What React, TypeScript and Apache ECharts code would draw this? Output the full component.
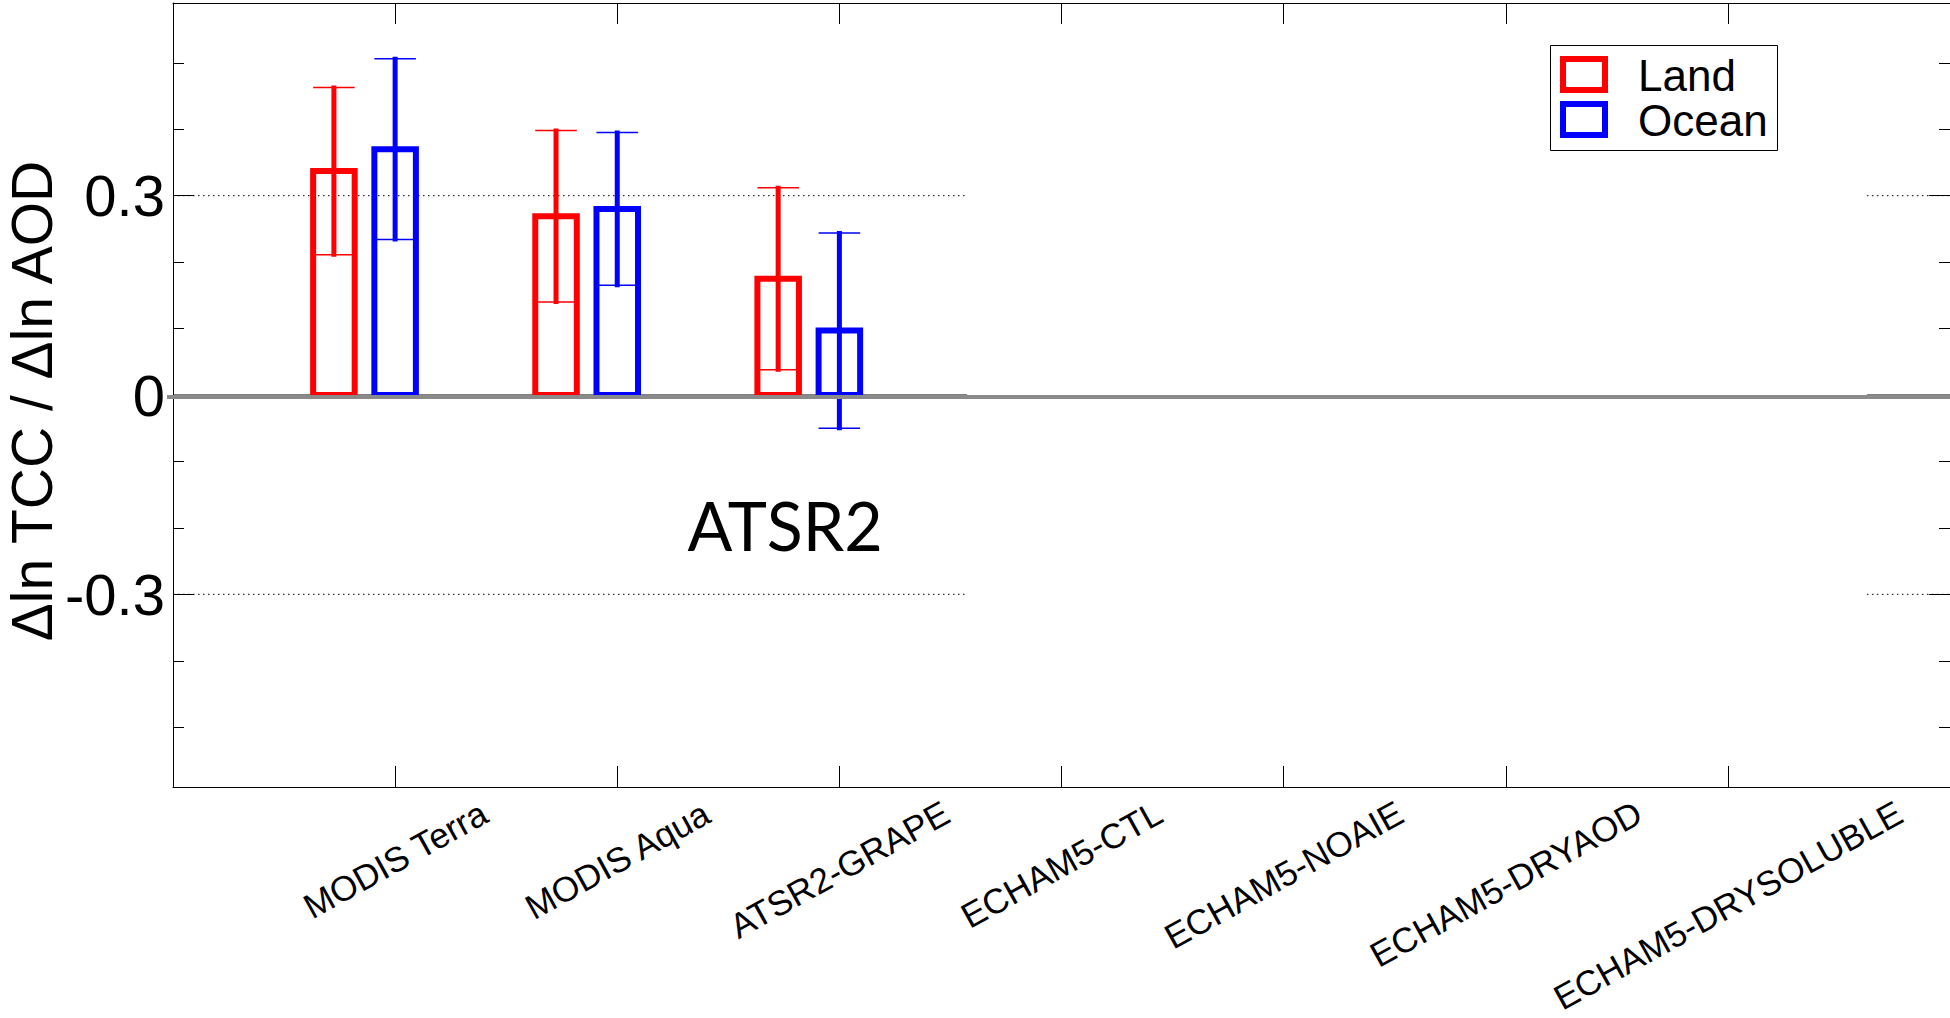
import React, { useEffect, useRef } from "react";
import * as echarts from "echarts";

// ---------------- data ----------------
const categories = [
  "MODIS Terra",
  "MODIS Aqua",
  "ATSR2-GRAPE",
  "ECHAM5-CTL",
  "ECHAM5-NOAIE",
  "ECHAM5-DRYAOD",
  "ECHAM5-DRYSOLUBLE",
];
const landValues: (number | null)[] = [0.337, 0.269, 0.175, null, null, null, null];
const landErrors: (number | null)[] = [0.126, 0.129, 0.137, null, null, null, null];
const oceanValues: (number | null)[] = [0.37, 0.28, 0.097, null, null, null, null];
const oceanErrors: (number | null)[] = [0.136, 0.115, 0.147, null, null, null, null];
const seriesNames = ["Land", "Ocean"];
const seriesColors = ["#ff0000", "#0000ff"];
const yLabelTicks = [-0.3, 0, 0.3];
const yMinorTicks = [-0.5, -0.4, -0.2, -0.1, 0.1, 0.2, 0.4, 0.5];
const dottedGridValues = [0.3, -0.3];
const zeroLineValues = [0];
const yAxisName = "\u0394ln TCC / \u0394ln AOD";
const annotationText = "ATSR2";
const annotationX = 2.756;
const annotationY = -0.195;

// ---------------- layout ----------------
const W = 1950;
const H = 1018;
const FONT = '"Liberation Sans", Arial, Helvetica, sans-serif';
const X_MIN = 0;
const X_MAX = categories.length + 1;
const Y_MIN = -0.59;
const Y_MAX = 0.59;
const BAR_WIDTH = 0.187; // in x-axis units
const GROUP_OFFSETS = [-0.2756, 0]; // in x-axis units
const PANEL_SEGMENTS = [
  [X_MIN, 3.575],
  [7.626, X_MAX],
];
const X_LABEL_SIZE = 35;
const X_LABEL_ANGLE = 29;
const X_LABEL_TOP = 799;

const xTickValues = categories.map((_, i) => i + 1);

function makeBarData(values: (number | null)[], errors: (number | null)[]) {
  const out: number[][] = [];
  values.forEach((v, i) => {
    if (v != null) out.push([i + 1, v, errors[i] ?? 0]);
  });
  return out;
}

function makeBarRender(color: string, offset: number) {
  return (params: any, api: any) => {
    const x = api.value(0);
    const v = api.value(1);
    const e = api.value(2);
    const xc = api.coord([x + offset, 0])[0];
    const y0 = api.coord([x, 0])[1];
    const yv = api.coord([x, v])[1];
    const yHi = api.coord([x, v + e])[1];
    const yLo = api.coord([x, v - e])[1];
    const w = api.size([BAR_WIDTH, 0])[0];
    return {
      type: "group",
      children: [
        {
          type: "rect",
          shape: { x: xc - w / 2, y: Math.min(yv, y0), width: w, height: Math.abs(y0 - yv) },
          style: { fill: null, stroke: color, lineWidth: 6 },
        },
        {
          type: "line",
          shape: { x1: xc, y1: yHi - 2, x2: xc, y2: yLo + 2 },
          style: { stroke: color, lineWidth: 5 },
        },
        {
          type: "line",
          shape: { x1: xc - w / 2, y1: yHi, x2: xc + w / 2, y2: yHi },
          style: { stroke: color, lineWidth: 1.5 },
        },
        {
          type: "line",
          shape: { x1: xc - w / 2, y1: yLo, x2: xc + w / 2, y2: yLo },
          style: { stroke: color, lineWidth: 1.5 },
        },
      ],
    };
  };
}

function makeGuideRender(style: any) {
  return (params: any, api: any) => {
    const v = api.value(1);
    return {
      type: "group",
      children: PANEL_SEGMENTS.map((seg) => {
        const p1 = api.coord([seg[0], v]);
        const p2 = api.coord([seg[1], v]);
        return {
          type: "line",
          shape: { x1: p1[0], y1: p1[1], x2: p2[0], y2: p2[1] },
          style,
        };
      }),
    };
  };
}

function shadowRender(params: any, api: any) {
  const v = api.value(1);
  const p1 = api.coord([X_MIN, v]);
  const p2 = api.coord([X_MAX, v]);
  return {
    type: "line",
    shape: { x1: p1[0] - 6, y1: p1[1] + 2, x2: p2[0], y2: p2[1] + 2 },
    style: { stroke: "#8a8a8a", lineWidth: 4 },
  };
}

function makeYAxis(position: "left" | "right", ticks: number[], len: number, labels: boolean, line: boolean) {
  return {
    type: "value",
    position,
    min: Y_MIN,
    max: Y_MAX,
    axisLine: { show: line, lineStyle: { color: "#000", width: 1 } },
    axisTick: {
      show: true,
      inside: true,
      length: len,
      customValues: ticks,
      lineStyle: { color: "#000", width: 1 },
    },
    axisLabel: labels
      ? {
          show: true,
          customValues: yLabelTicks,
          fontSize: 58,
          fontFamily: FONT,
          color: "#000",
          margin: 8,
        }
      : { show: false },
    splitLine: { show: false },
  };
}

function makeXAxis(position: "top" | "bottom") {
  return {
    type: "value",
    position,
    min: X_MIN,
    max: X_MAX,
    axisLine: { show: true, onZero: false, lineStyle: { color: "#000", width: 1 } },
    axisTick: {
      show: true,
      inside: true,
      length: 21,
      customValues: xTickValues,
      lineStyle: { color: "#000", width: 1 },
    },
    axisLabel: { show: false },
    splitLine: { show: false },
  };
}

export default function App() {
  const ref = useRef<HTMLDivElement>(null);

  useEffect(() => {
    if (!ref.current) return;
    const chart = echarts.init(ref.current, null, { renderer: "svg" });

    const option: any = {
      animation: false,
      backgroundColor: "#ffffff",
      textStyle: { fontFamily: FONT },
      grid: { left: 173, top: 3, width: 1779, height: 784, containLabel: false },
      xAxis: [makeXAxis("bottom"), makeXAxis("top")],
      yAxis: [
        makeYAxis("left", [...yMinorTicks, ...yLabelTicks], 11, true, true),
        makeYAxis("left", yLabelTicks, 21, false, false),
        makeYAxis("right", [...yMinorTicks, ...yLabelTicks], 11, false, true),
        makeYAxis("right", yLabelTicks, 21, false, false),
      ],
      series: [
        {
          type: "custom",
          name: "grid-dotted",
          z: 1,
          silent: true,
          renderItem: makeGuideRender({ stroke: "#000", lineWidth: 1, lineDash: [1.5, 3.5] }),
          data: dottedGridValues.map((v) => [X_MIN, v]),
          encode: { x: 0, y: 1 },
        },
        {
          type: "custom",
          name: "zero-line",
          z: 1,
          silent: true,
          renderItem: makeGuideRender({ stroke: "#000", lineWidth: 1 }),
          data: zeroLineValues.map((v) => [X_MIN, v]),
          encode: { x: 0, y: 1 },
        },
        ...seriesNames.map((name, k) => ({
          type: "custom",
          name,
          z: 2,
          renderItem: makeBarRender(seriesColors[k], GROUP_OFFSETS[k]),
          data: k === 0 ? makeBarData(landValues, landErrors) : makeBarData(oceanValues, oceanErrors),
          encode: { x: 0, y: 1 },
        })),
        {
          type: "custom",
          name: "zero-shadow",
          z: 3,
          silent: true,
          renderItem: shadowRender,
          data: zeroLineValues.map((v) => [X_MIN, v]),
          encode: { x: 0, y: 1 },
        },
      ],
    };
    chart.setOption(option);

    // ----- computed graphics (labels placed through the axis scales) -----
    const canvas = document.createElement("canvas");
    const ctx = canvas.getContext("2d")!;
    ctx.font = `${X_LABEL_SIZE}px ${FONT}`;
    const theta = (X_LABEL_ANGLE * Math.PI) / 180;
    const capH = 0.716 * X_LABEL_SIZE;

    const labelEls = categories.map((c, i) => {
      const px = chart.convertToPixel({ xAxisIndex: 0 }, xTickValues[i]) as number;
      const L = ctx.measureText(c).width;
      const hBox = L * Math.sin(theta) + capH * Math.cos(theta);
      return {
        type: "text",
        x: px,
        y: X_LABEL_TOP + hBox / 2,
        rotation: theta,
        style: {
          text: c,
          fill: "#000",
          fontSize: X_LABEL_SIZE,
          fontFamily: FONT,
          align: "center",
          verticalAlign: "middle",
        },
      };
    });

    // annotation font scaled to target cap height/width
    const annFont = 'Lato, "Noto Sans", sans-serif';
    ctx.font = `100px ${annFont}`;
    const m = ctx.measureText(annotationText);
    const capA = m.actualBoundingBoxAscent || 72;
    const inkW = (m.actualBoundingBoxRight || 0) + (m.actualBoundingBoxLeft || 0) || 300;
    const annSize = (100 * 50) / capA;
    const annScaleX = 192 / ((inkW * annSize) / 100);
    const annPos = chart.convertToPixel({ gridIndex: 0 }, [annotationX, annotationY]) as number[];

    const legendX = 1550;
    const legendY = 45;
    const legendEls: any[] = [
      {
        type: "rect",
        shape: { x: legendX + 0.5, y: legendY + 0.5, width: 227, height: 105 },
        style: { fill: "#fff", stroke: "#000", lineWidth: 1 },
        z: 10,
      },
    ];
    seriesNames.forEach((name, k) => {
      legendEls.push({
        type: "rect",
        shape: { x: legendX + 13, y: legendY + 14 + k * 45, width: 42, height: 31 },
        style: { fill: "#fff", stroke: seriesColors[k], lineWidth: 6 },
        z: 11,
      });
      legendEls.push({
        type: "text",
        x: legendX + 88,
        y: legendY + 30.5 + k * 45,
        style: {
          text: name,
          fill: "#000",
          fontSize: 44,
          fontFamily: FONT,
          align: "left",
          verticalAlign: "middle",
        },
        z: 11,
      });
    });

    chart.setOption({
      graphic: [
        ...labelEls,
        {
          type: "text",
          x: 32,
          y: 401,
          rotation: Math.PI / 2,
          style: {
            text: yAxisName,
            fill: "#000",
            fontSize: 57,
            fontFamily: FONT,
            align: "center",
            verticalAlign: "middle",
          },
        },
        {
          type: "text",
          x: annPos[0],
          y: annPos[1],
          scaleX: annScaleX,
          style: {
            text: annotationText,
            fill: "#000",
            fontSize: annSize,
            fontFamily: annFont,
            align: "center",
            verticalAlign: "middle",
          },
        },
        ...legendEls,
      ],
    });

    return () => chart.dispose();
  }, []);

  return (
    <div
      ref={ref}
      style={{ position: "fixed", left: 0, top: 0, width: W, height: H, background: "#fff" }}
    />
  );
}
